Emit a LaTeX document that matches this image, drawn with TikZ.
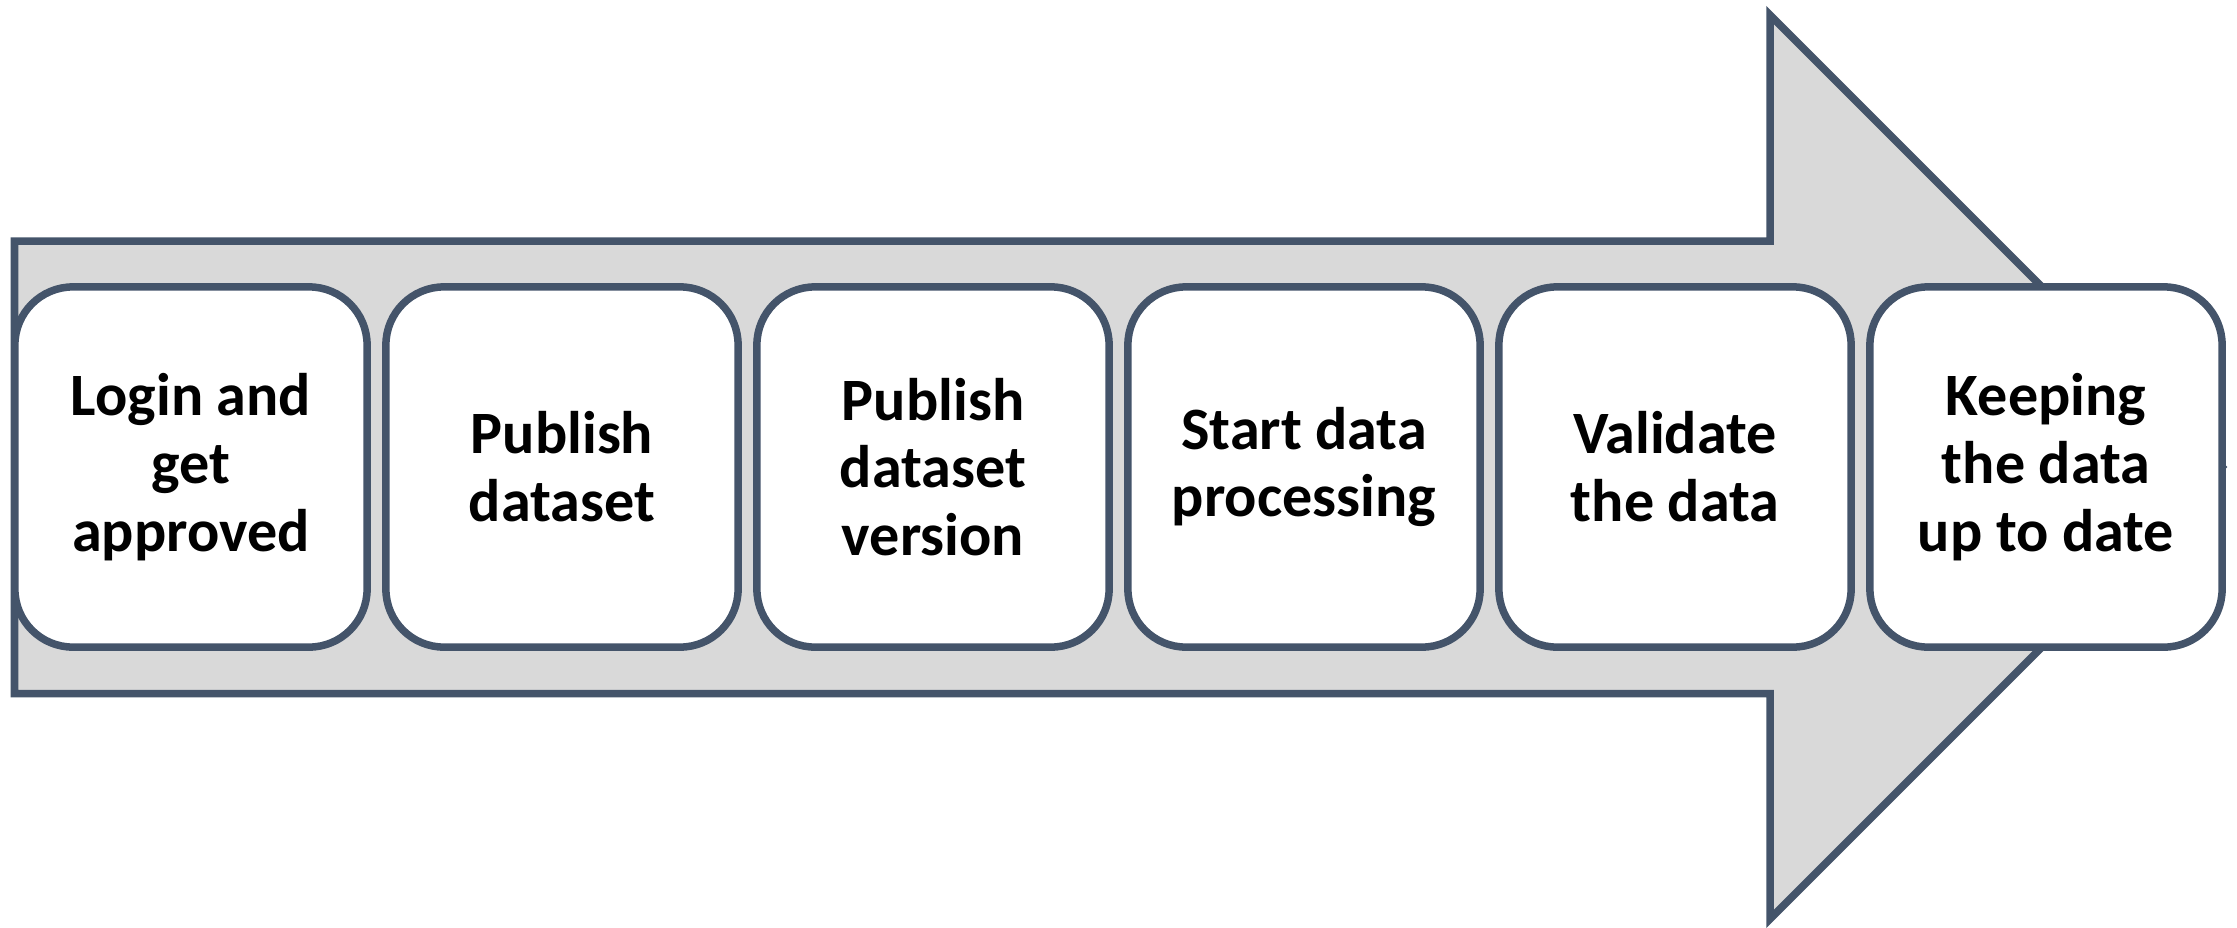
\documentclass[tikz,border=0pt]{standalone}
\usepackage{fontspec}
\setmainfont{Carlito}
\definecolor{edge}{HTML}{44546A}
\definecolor{shaft}{HTML}{D9D9D9}
\tikzset{
  stepbox/.style={draw=edge, fill=white, line width=0.075cm, rounded corners=0.58cm,
    minimum width=3.52cm, minimum height=3.6cm, inner sep=0pt, align=center,
    font=\fontsize{17.1}{19.3}\selectfont\bfseries},
  bigarrow/.style={draw=edge, fill=shaft, line width=0.075cm, line join=miter}
}
\begin{document}
\begin{tikzpicture}[x=0.01cm, y=-0.01cm]
\useasboundingbox (0,0) rectangle (2237,927);
\draw[bigarrow] (14.5,241) -- (1770,241) -- (1770,15) -- (2222,467) -- (1770,919) -- (1770,693.5) -- (14.5,693.5) -- cycle;
\node[stepbox] (b1) at (191,467) {Login and\\get\\approved};
\node[stepbox] (b2) at (562,467) {Publish\\dataset};
\node[stepbox] (b3) at (933,467) {Publish\\dataset\\version};
\node[stepbox] (b4) at (1304,467) {Start data\\processing};
\node[stepbox] (b5) at (1675,467) {Validate\\the data};
\node[stepbox] (b6) at (2046,467) {Keeping\\the data\\up to date};
\end{tikzpicture}
\end{document}
